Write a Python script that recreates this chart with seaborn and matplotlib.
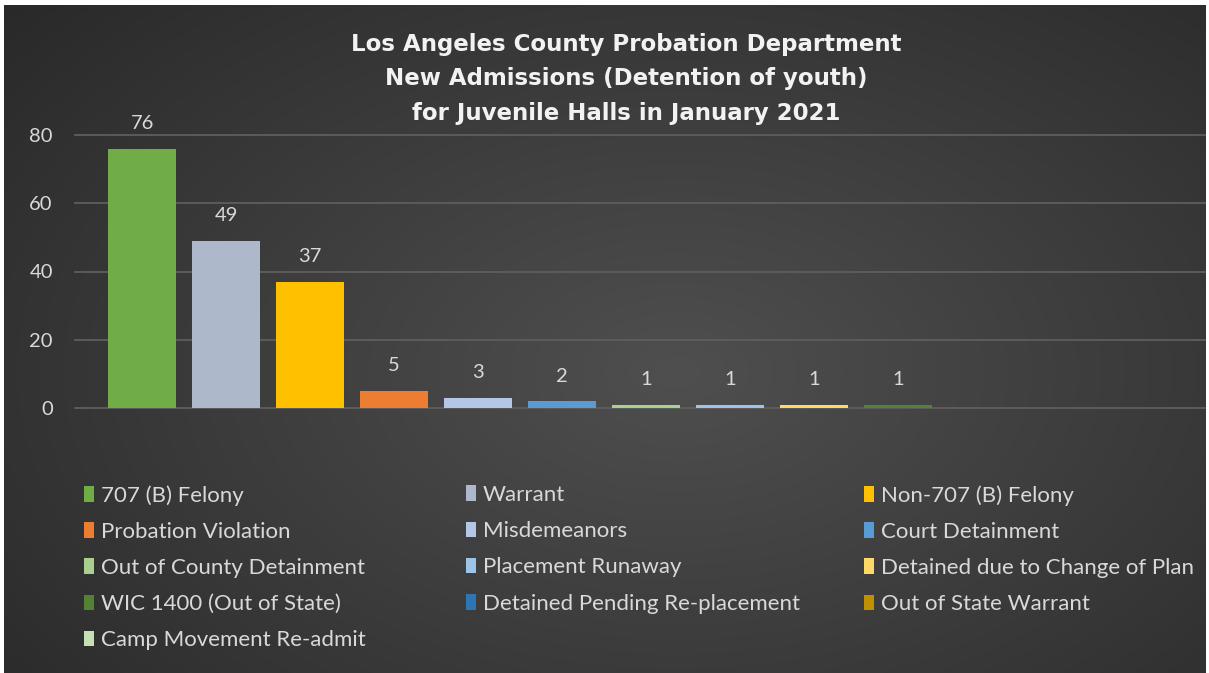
import numpy as np
import pandas as pd
import matplotlib
matplotlib.use('Agg')
import matplotlib.pyplot as plt
from matplotlib.patches import Patch
import seaborn as sns

categories = [
    '707 (B) Felony', 'Warrant', 'Non-707 (B) Felony', 'Probation Violation',
    'Misdemeanors', 'Court Detainment', 'Out of County Detainment',
    'Placement Runaway', 'Detained due to Change of Plan', 'WIC 1400 (Out of State)',
    'Detained Pending Re-placement', 'Out of State Warrant', 'Camp Movement Re-admit',
]
admissions = [76, 49, 37, 5, 3, 2, 1, 1, 1, 1, 0, 0, 0]
bar_colors = [
    '#70AD47', '#ADB9CA', '#FFC000', '#ED7D31', '#B4C7E7', '#5B9BD5', '#A9D18E',
    '#9DC3E6', '#FFD966', '#548235', '#2E75B6', '#BF9000', '#C5E0B4',
]
y_ticks = [0, 20, 40, 60, 80]
title = ('Los Angeles County Probation Department\n'
         'New Admissions (Detention of youth)\n'
         'for Juvenile Halls in January 2021')

df = pd.DataFrame({'category': categories, 'admissions': admissions})
palette = dict(zip(categories, bar_colors))

W, H = 1209, 673
fig = plt.figure(figsize=(W / 100, H / 100), dpi=100, facecolor='white')

# dark radial-gradient background, white rim round it
bg = fig.add_axes([4 / W, 0, 1202 / W, 668 / H])
xx, yy = np.meshgrid(np.linspace(0, 1, 400), np.linspace(0, 1, 240))
r = np.sqrt(((xx - 0.56) / 0.75) ** 2 + ((yy - 0.55) / 0.85) ** 2)
shade = 0.31 - 0.15 * np.clip(r, 0, 1)
bg.imshow(np.dstack([shade] * 3), aspect='auto', extent=[0, 1, 0, 1], interpolation='bicubic')
bg.set_axis_off()

ax = fig.add_axes([75 / W, (H - 408) / H, 1130 / W, 273 / H])
ax.set_facecolor('none')
sns.barplot(data=df, x='category', y='admissions', hue='category', palette=palette,
            order=categories, hue_order=categories, width=0.81, legend=False,
            saturation=1, ax=ax, zorder=3)

ax.set_xlim(-0.8, 12.65)
ax.set_ylim(0, 80)
ax.set_yticks(y_ticks)
ax.set_xticks([])
ax.set_xlabel('')
ax.set_ylabel('')
for s in ax.spines.values():
    s.set_visible(False)
ax.grid(axis='y', color='#5e5e5e', linewidth=1.3, zorder=0)
for gl in ax.get_ygridlines():
    gl.set_clip_on(False)
ax.tick_params(axis='y', length=0, pad=16, labelcolor='#d9d9d9', labelsize=14.5)
for lab in ax.get_yticklabels():
    lab.set_family('Lato')

for cont in ax.containers:
    vals = [b.get_height() for b in cont]
    ax.bar_label(cont, labels=[f'{v:.0f}' if v > 0 else '' for v in vals],
                 padding=12, color='#d9d9d9', fontsize=14.5, family='Lato')

fig.text(0.518, 1 - 79 / H, title, ha='center', va='center', color='#f2f2f2',
         fontsize=16.5, fontweight='bold', family='DejaVu Sans', linespacing=1.65)

# legend laid out row by row across three columns, like the original
col_x = [84, 466, 864]
for c in range(3):
    idx = list(range(c, len(categories), 3))
    handles = [Patch(facecolor=bar_colors[i], edgecolor='none') for i in idx]
    fig.legend(handles, [categories[i] for i in idx], loc='upper left',
               bbox_to_anchor=(col_x[c] / W, 1 - 485 / H), frameon=False,
               handlelength=0.45, handleheight=0.7, handletextpad=0.3,
               labelspacing=0.73, borderaxespad=0, borderpad=0,
               prop={'family': 'Lato', 'size': 16}, labelcolor='#d9d9d9')

fig.savefig('out.png', dpi=100, facecolor=fig.get_facecolor())
